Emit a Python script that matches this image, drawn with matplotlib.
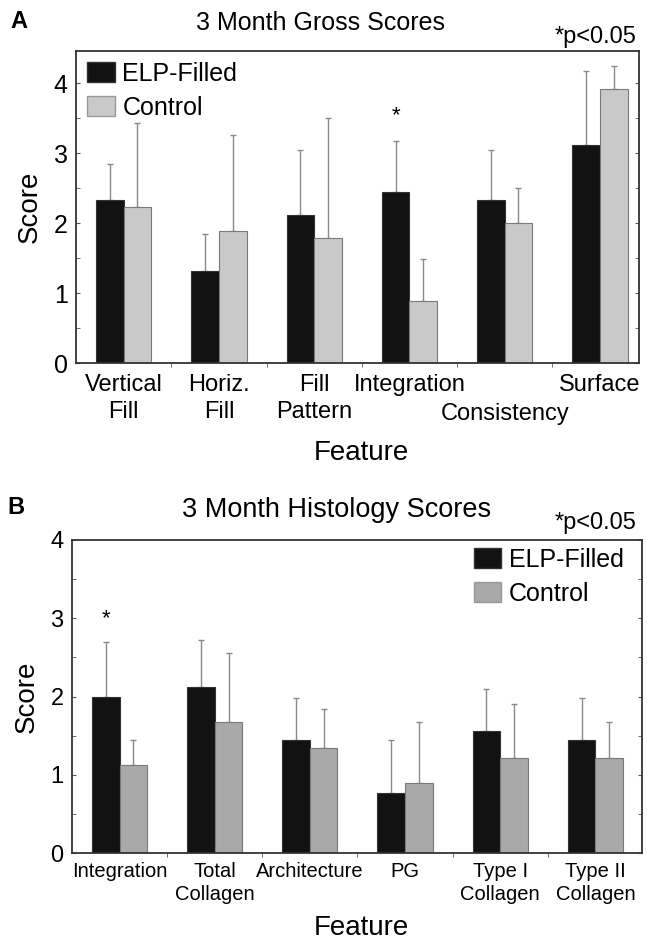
import matplotlib
matplotlib.use("Agg")
import matplotlib.pyplot as plt
import numpy as np
from matplotlib.patches import Patch
from matplotlib.ticker import MultipleLocator, FixedLocator

plt.rcParams['font.family'] = ['Liberation Sans', 'DejaVu Sans']

# ---- Data ----
gross_labels = ["Vertical\nFill", "Horiz.\nFill", "Fill\nPattern", "Integration", "Consistency", "Surface"]
gross_label_row = [1, 1, 1, 1, 2, 1]
gross_elp = [2.33, 1.32, 2.11, 2.44, 2.33, 3.11]
gross_elp_err = [0.51, 0.52, 0.94, 0.73, 0.72, 1.06]
gross_ctrl = [2.23, 1.89, 1.78, 0.89, 2.00, 3.91]
gross_ctrl_err = [1.20, 1.37, 1.72, 0.60, 0.50, 0.33]
gross_sig = [3]

hist_labels = ["Integration", "Total\nCollagen", "Architecture", "PG", "Type I\nCollagen", "Type II\nCollagen"]
hist_label_row = [1, 1, 1, 1, 1, 1]
hist_elp = [2.00, 2.12, 1.45, 0.77, 1.56, 1.45]
hist_elp_err = [0.70, 0.60, 0.53, 0.68, 0.53, 0.53]
hist_ctrl = [1.12, 1.67, 1.34, 0.89, 1.22, 1.22]
hist_ctrl_err = [0.33, 0.88, 0.50, 0.79, 0.68, 0.45]
hist_sig = [0]

series_names = ["ELP-Filled", "Control"]

W, H = 647, 941
fig = plt.figure(figsize=(W / 100, H / 100), dpi=100)

def fx(px):
    return px / W

def fy(py):
    return 1 - py / H

def panel(rect, labels, rows, elp, elp_err, ctrl, ctrl_err, sig, sig_y, ylim, xlim,
          ctrl_color, tick_fs, linesp, title, title_fs, title_x, letter, title_y, letter_xy, p_y,
          leg_anchor, feat_y, row1_off, row_gap, ytick_fs):
    l, t, r, b = rect
    ax = fig.add_axes([fx(l), fy(b), fx(r) - fx(l), fy(t) - fy(b)])
    x = np.arange(len(labels))
    w = 0.29
    ax.bar(x - w / 2, elp, w, color="#121212", edgecolor="#333333", linewidth=0.8, zorder=2)
    ax.bar(x + w / 2, ctrl, w, color=ctrl_color, edgecolor="#7a7a7a", linewidth=0.8, zorder=2)
    ax.errorbar(x - w / 2, elp, yerr=[np.zeros(len(elp)), elp_err], fmt="none",
                ecolor="#8a8a8a", elinewidth=1.0, capsize=2.2, capthick=1.0, zorder=1)
    ax.errorbar(x + w / 2, ctrl, yerr=[np.zeros(len(ctrl)), ctrl_err], fmt="none",
                ecolor="#8a8a8a", elinewidth=1.0, capsize=2.2, capthick=1.0, zorder=1)
    for i in sig:
        ax.text(x[i] - w / 2, sig_y, "*", ha="center", va="center", fontsize=16)
    ax.set_xlim(*xlim)
    ax.set_ylim(*ylim)
    ax.set_xticks(x)
    ax.set_xticklabels([])
    ax.tick_params(axis="x", which="major", length=0)
    # category labels (row 1 top at row1_off px below axis; row 2 lower)
    for xi, lab, rw in zip(x, labels, rows):
        off = row1_off + (rw - 1) * row_gap
        ax.annotate(lab, xy=(xi, 0), xycoords=("data", "axes fraction"),
                    xytext=(0, -off * 0.72), textcoords="offset points",
                    ha="center", va="top", fontsize=tick_fs, linespacing=linesp)
    ax.xaxis.set_minor_locator(FixedLocator(x[:-1] + 0.5))
    ax.tick_params(axis="x", which="minor", length=3, direction="out", color="#555555")
    ax.set_yticks([0, 1, 2, 3, 4])
    ax.yaxis.set_minor_locator(MultipleLocator(0.5))
    ax.tick_params(axis="y", which="both", direction="in", left=True, right=True,
                   length=3, color="#555555", labelsize=ytick_fs, pad=6)
    for s in ax.spines.values():
        s.set_linewidth(1.3)
        s.set_color("#333333")
    fig.text(fx((l + r) / 2 + 4), fy(feat_y), "Feature", fontsize=20, ha="center", va="center")
    ax.set_ylabel("Score", fontsize=20, labelpad=8)
    handles = [Patch(facecolor="#121212", edgecolor="#333333"),
               Patch(facecolor=ctrl_color, edgecolor="#999999")]
    ax.legend(handles, series_names, loc="upper left", bbox_to_anchor=leg_anchor,
              frameon=False, fontsize=18, handlelength=1.1, handleheight=0.85,
              handletextpad=0.3, labelspacing=0.4, borderpad=0, borderaxespad=0)
    fig.text(fx(letter_xy[0]), fy(letter_xy[1]), letter, fontsize=17, fontweight="bold",
             ha="center", va="center")
    fig.text(fx(title_x), fy(title_y), title, fontsize=title_fs, ha="center", va="center")
    fig.text(fx(637), fy(p_y), "*p<0.05", fontsize=17, ha="right", va="center")
    return ax

panel((76, 51, 639, 363), gross_labels, gross_label_row, gross_elp, gross_elp_err,
      gross_ctrl, gross_ctrl_err, gross_sig, 3.54, (0, 4.46), (-0.5, 5.41), "#c9c9c9",
      17, 1.3, "3 Month Gross Scores", 18, 320, "A", 23, (19, 22), 37,
      (0.02, 0.965), 453, 11, 29, 18)

panel((72, 540, 642, 853), hist_labels, hist_label_row, hist_elp, hist_elp_err,
      hist_ctrl, hist_ctrl_err, hist_sig, 3.0, (0, 4.0), (-0.5, 5.49), "#a9a9a9",
      14.5, 1.3, "3 Month Histology Scores", 19.5, 337, "B", 510, (16, 507), 523,
      (0.705, 0.975), 928, 9, 22, 17)

fig.savefig("out.png", dpi=100)
